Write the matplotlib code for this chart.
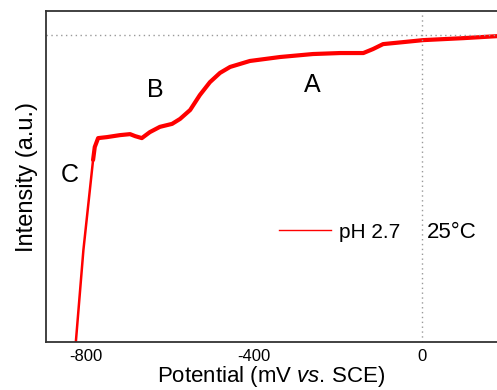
import matplotlib
matplotlib.use("Agg")
import matplotlib.pyplot as plt
from matplotlib.lines import Line2D

plt.rcParams['font.family'] = ['Liberation Sans', 'DejaVu Sans']
plt.rcParams['mathtext.fontset'] = 'custom'
plt.rcParams['mathtext.it'] = 'Liberation Sans:italic'
plt.rcParams['mathtext.rm'] = 'Liberation Sans'

# Data
potential = [-824, -806, -783, -779, -771, -750, -719, -695, -683, -667, -648, -624,
             -595, -576, -552, -529, -505, -481, -457, -410, -338, -260, -195, -140,
             -117, -93, -45, 2, 98, 178]
intensity = [0.0, 27.8, 55.0, 58.9, 61.6, 61.9, 62.5, 62.8, 62.2, 61.6, 63.4, 65.0,
             65.9, 67.4, 70.1, 74.6, 78.5, 81.3, 83.1, 84.9, 86.1, 87.0, 87.3, 87.3,
             88.5, 90.0, 90.6, 91.2, 91.8, 92.4]
ref_level = 92.7
xticks = [-800, -400, 0]
xtick_labels = ["-800", "-400", "0"]
peak_labels = ["C", "B", "A"]
peak_x = [-838, -636, -262]
peak_y = [50.5, 76.1, 77.6]

fig = plt.figure(figsize=(4.97, 3.90), dpi=100)
ax = fig.add_axes([46/497, 48/390, 451/497, 331/390])

ax.plot(potential[:3], intensity[:3], color='#ff0000', lw=1.8, solid_capstyle='butt')
ax.plot(potential[2:], intensity[2:], color='#ff0000', lw=3.0,
        solid_joinstyle='round', solid_capstyle='round')
ax.axvline(0, color='#999999', ls=(0, (1, 2.5)), lw=1)
ax.axhline(ref_level, color='#999999', ls=(0, (1, 2.5)), lw=1)

ax.set_xlim(-895, 178)
ax.set_ylim(0, 100)
ax.set_xticks(xticks)
ax.set_xticklabels(xtick_labels, fontsize=12)
ax.set_yticks([])
ax.tick_params(axis='x', length=0, pad=5)
for s in ['left', 'bottom', 'top']:
    ax.spines[s].set_color('#333333')
    ax.spines[s].set_linewidth(1.3)
ax.spines['right'].set_visible(False)

ax.set_xlabel("Potential (mV $\\mathit{vs.}\\,$SCE)", fontsize=16, labelpad=0)
ax.set_ylabel("Intensity (a.u.)", fontsize=17, labelpad=6)

for lab, px, py in zip(peak_labels, peak_x, peak_y):
    ax.text(px, py, lab, fontsize=18, ha='center', va='center')

handle = Line2D([], [], color='#ff0000', lw=1)
ax.legend([handle], ["pH 2.7"], loc='center left', bbox_to_anchor=(0.517, 0.332),
          frameon=False, fontsize=15, handlelength=2.5, handletextpad=0.35,
          borderpad=0, borderaxespad=0)
ax.text(0.845, 0.332, "25°C", transform=ax.transAxes, fontsize=16, ha='left', va='center')

fig.savefig("out.png", dpi=100)
